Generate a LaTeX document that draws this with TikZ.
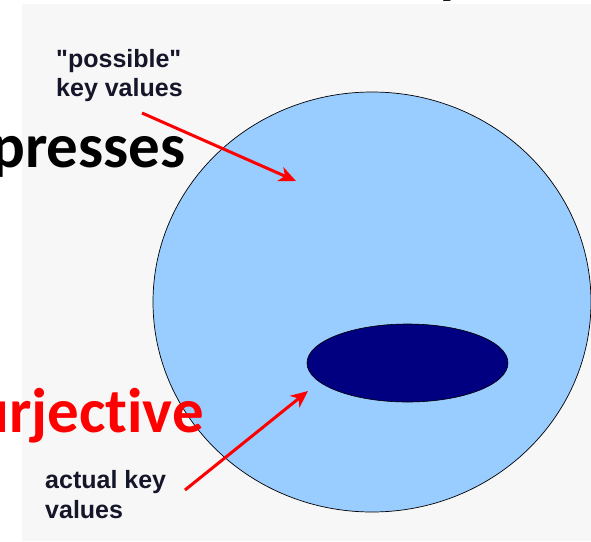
\documentclass[tikz,border=0pt]{standalone}
\usepackage{fontspec}
\newfontfamily\labelfont{Liberation Sans}
\newfontfamily\slidefont{Carlito}[Ligatures={NoCommon}]
\usetikzlibrary{arrows.meta,shapes.geometric}
\definecolor{bggray}{HTML}{F7F7F7}
\definecolor{lightblue}{HTML}{99CCFF}
\definecolor{navyfill}{HTML}{000080}
\definecolor{labelink}{HTML}{16162A}
\definecolor{redink}{HTML}{FF0000}
\tikzset{
  smalllabel/.style={inner sep=0pt, anchor=base west, text=labelink,
    font=\labelfont\fontsize{25}{29}\selectfont\bfseries},
  bigword/.style={inner sep=0pt, anchor=base east,
    font=\slidefont\fontsize{63}{70}\selectfont\bfseries},
  pointer/.style={draw=redink, line width=3pt,
    -{Stealth[length=17pt,width=15pt,inset=5pt]}},
}
\begin{document}
\begin{tikzpicture}[x=1pt,y=-1pt]
  \useasboundingbox (0,0) rectangle (591,541);
  \fill[white] (0,0) rectangle (591,541);
  \fill[bggray] (22,4) rectangle (591,541);
  % title fragment above the picture
  \node[bigword, anchor=base west, text=black] (titley) at (437,-9) {y};
  % big text of the slide
  \node[bigword, text=black] (compresses) at (186,167) {compresses};
  % sets
  \node[ellipse, draw=black, line width=0.7pt, fill=lightblue,
        minimum width=438pt, minimum height=420pt, inner sep=0pt] (possible) at (372,302) {};
  \node[ellipse, draw=black, line width=0.6pt, fill=navyfill,
        minimum width=201pt, minimum height=78pt, inner sep=0pt] (actual) at (407.5,363) {};
  \node[bigword, text=redink] (surjective) at (204,432) {surjective};
  % labels
  \node[smalllabel] (poss1) at (56,67) {"possible"};
  \node[smalllabel] (poss2) at (56,96) {key values};
  \node[smalllabel] (act1) at (45,488) {actual key};
  \node[smalllabel] (act2) at (45,518) {values};
  % arrows
  \coordinate (p1start) at (142,113);
  \coordinate (p1end) at (296,181);
  \coordinate (a1start) at (185,490);
  \coordinate (a1end) at (308,391);
  \draw[pointer] (p1start) -- (p1end);
  \draw[pointer] (a1start) -- (a1end);
\end{tikzpicture}
\end{document}
